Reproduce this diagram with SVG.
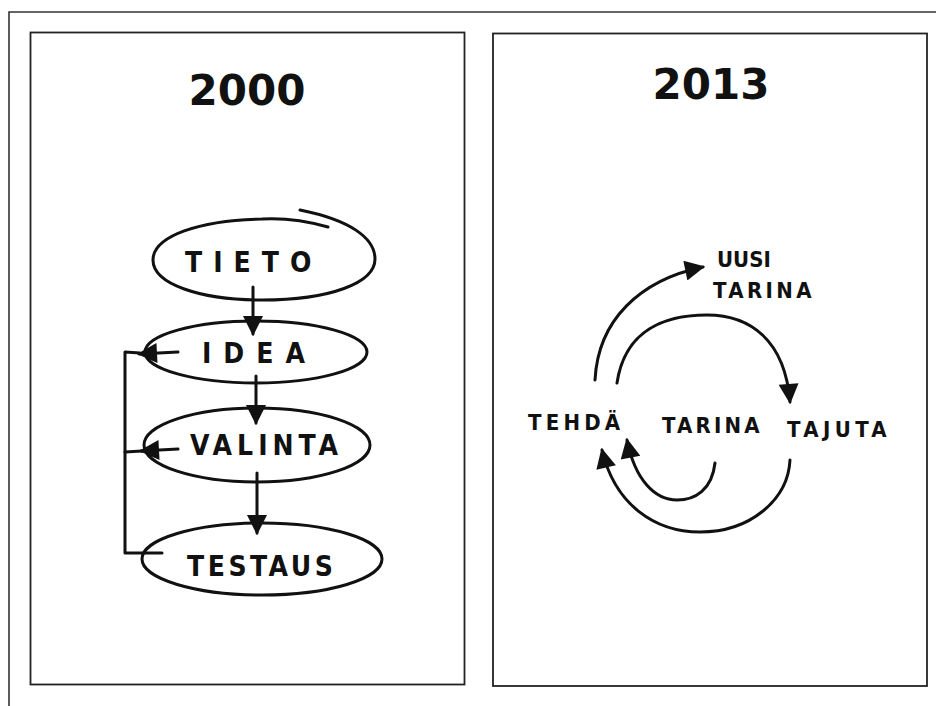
<svg xmlns="http://www.w3.org/2000/svg" width="936" height="706" viewBox="0 0 936 706">
  <defs>
    <marker id="head" viewBox="0 0 10 10" refX="9" refY="5" markerWidth="24" markerHeight="20" markerUnits="userSpaceOnUse" orient="auto">
      <path d="M0,0 L10,5 L0,10 Z" fill="#111"/>
    </marker>
  </defs>
  <style>
    .frame { fill: none; stroke: #333; stroke-width: 1.6; }
    .panel { fill: #fff; stroke: #222; stroke-width: 1.8; }
    .year { font-family: "DejaVu Sans", sans-serif; font-weight: bold; font-size: 42px; fill: #111; text-anchor: middle; }
    .hand { fill: none; stroke: #111; stroke-width: 3; stroke-linecap: round; stroke-linejoin: round; }
    .lbl { font-family: "DejaVu Sans Condensed", "DejaVu Sans", sans-serif; font-weight: bold; font-size: 28px; fill: #111; }
    .sm { font-family: "DejaVu Sans Condensed", "DejaVu Sans", sans-serif; font-weight: bold; font-size: 22px; fill: #111; }
    .arrow { fill: none; stroke: #111; stroke-width: 3; stroke-linecap: round; marker-end: url(#head); }
  </style>

  <rect width="936" height="706" fill="#fff"/>
  <!-- outer frame: only top and left edges fall inside the canvas -->
  <path class="frame" d="M9,706 L9,12 L936,12"/>

  <!-- panels -->
  <rect class="panel" x="30.5" y="32.5" width="434" height="652"/>
  <rect class="panel" x="493" y="33.5" width="434" height="652.5"/>

  <text class="year" x="247" y="105">2000</text>
  <text class="year" x="711" y="99">2013</text>

  <!-- left flowchart nodes -->
  <g id="tieto">
    <path class="hand" d="M328,227 C300,219 280,218 262,219 C200,220 153,236 153,260 C153,284 200,300 262,300 C330,300 375,283 375,259 C375,238 350,220 300,210"/>
    <text class="lbl" x="185" y="272" letter-spacing="11">TIETO</text>
  </g>
  <g id="idea">
    <ellipse class="hand" cx="256" cy="352" rx="111" ry="31"/>
    <text class="lbl" x="202" y="363" letter-spacing="12">IDEA</text>
  </g>
  <g id="valinta">
    <ellipse class="hand" cx="257" cy="445" rx="113" ry="37"/>
    <text class="lbl" x="190" y="455" letter-spacing="5">VALINTA</text>
  </g>
  <g id="testaus">
    <ellipse class="hand" cx="262" cy="559" rx="120" ry="36"/>
    <text class="lbl" x="187" y="576" letter-spacing="3.5">TESTAUS</text>
  </g>

  <!-- right cycle labels -->
  <g id="uusi-tarina">
    <text class="sm" x="717" y="267" font-size="20">UUSI</text>
    <text class="sm" x="713" y="298" letter-spacing="3.4">TARINA</text>
  </g>
  <g id="tehda"><text class="sm" x="528" y="430" letter-spacing="4.2">TEHDÄ</text></g>
  <g id="tarina"><text class="sm" x="662" y="433" letter-spacing="3.2">TARINA</text></g>
  <g id="tajuta"><text class="sm" x="787" y="437" letter-spacing="4.4">TAJUTA</text></g>

  <!-- connectors -->
  <g id="connectors">
    <path class="arrow" d="M253,287 L253,334"/>
    <path class="arrow" d="M256,376 L256,423"/>
    <path class="arrow" d="M257,473 L257,533"/>
    <!-- feedback bracket on the left -->
    <path class="hand" d="M162,553 L125,553 L125,352 L140,353"/>
    <path class="hand" d="M125,452 L142,451"/>
    <path class="arrow" d="M178,352 L139,354"/>
    <path class="arrow" d="M178,449 L141,451"/>

    <path class="arrow" d="M595,380 C598,320 640,280 703,267"/>
    <path class="arrow" d="M617,383 C625,330 665,315 707,315 C750,315 785,340 790,402"/>
    <path class="arrow" d="M715,463 C712,490 695,500 677,500 C655,500 635,480 627,440"/>
    <path class="arrow" d="M790,460 C788,500 750,532 700,532 C655,532 615,505 602,450"/>
  </g>
</svg>
